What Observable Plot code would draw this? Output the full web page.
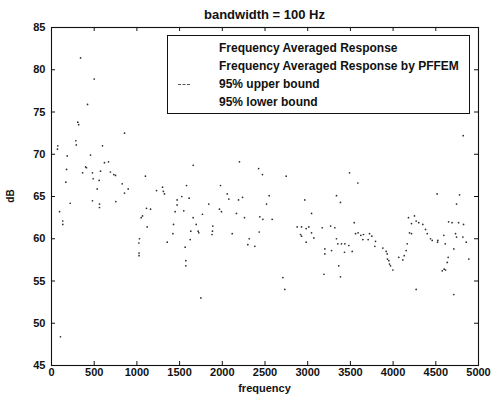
<!DOCTYPE html>
<html><head><meta charset="utf-8">
<script src="https://cdn.jsdelivr.net/npm/d3@7"></script>
<script src="https://cdn.jsdelivr.net/npm/@observablehq/plot@0.6"></script>
<style>
body{margin:0;background:#fff;}
#wrap{position:relative;width:493px;height:399px;font-family:"Liberation Sans",Arial,Helvetica,sans-serif;color:#111;overflow:hidden;}
#wrap svg{position:absolute;left:0;top:0;}
.abs{position:absolute;white-space:nowrap;font-weight:bold;}
#title{left:0;width:529px;top:7px;text-align:center;font-size:13px;line-height:16px;}
#xlab{left:0;width:529px;top:381px;text-align:center;font-size:11px;line-height:14px;}
#ylab{left:10px;top:196px;font-size:10px;transform:translate(-50%,-50%) rotate(-90deg);}
#legend{position:absolute;left:167px;top:35px;width:301px;height:77px;border:1px solid #111;background:#fff;}
#legend .row{position:absolute;left:51px;font-size:12px;line-height:14px;font-weight:bold;white-space:nowrap;}
#legend .sample{position:absolute;left:10px;width:12px;height:0;}
</style></head><body><div id="wrap"></div>
<script>
const xTicks = [0, 500, 1000, 1500, 2000, 2500, 3000, 3500, 4000, 4500, 5000];
const yTicks = [45, 50, 55, 60, 65, 70, 75, 80, 85];
const seriesNames = ["Frequency Averaged Response", "Frequency Averaged Response by PFFEM", "95% upper bound", "95% lower bound"];

const frequency = [340,500,422,308,318,285,290,855,74,70,597,184,457,620,667,410,400,364,176,480,574,690,730,750,558,488,828,1100,168,535,855,898,1300,1310,1323,1230,219,480,562,562,753,94,1112,1160,1066,1050,132,132,1120,1030,1023,1025,1025,105,
1659,2201,2425,2470,1581,1979,1526,1471,1471,1448,1549,1612,1842,2058,2077,2190,2237,1967,1990,2166,2260,2440,2475,2549,2518,2584,1659,1768,1694,1717,1725,1889,1885,1880,1429,1422,1631,1624,1355,2116,2315,2299,2381,2432,1565,1573,1573,1749,
3490,3587,2748,3337,3384,2966,3045,3545,2877,2928,2982,3013,3170,3268,3318,2916,2928,3045,3072,2982,3337,3353,3396,3435,3482,3521,3431,3201,3201,3279,3560,3590,3622,3653,3646,3708,3724,3751,3794,3786,3880,3919,3934,3958,3364,3384,3190,2709,2732,
4821,4516,4778,4743,4180,4250,4270,4300,4348,4215,4650,4690,4767,4825,4192,4215,4380,4400,4438,4458,4524,4520,4594,4610,4731,4743,4817,4856,4165,4153,4130,4067,4114,4711,4887,4645,4634,4598,4575,4614,3931,3950,3970,3997,4270,4711];
const level = [81.4,78.9,75.9,73.8,73.5,71.6,71.1,72.5,71.0,70.6,71.0,69.8,69.9,69.0,69.1,68.4,68.5,67.8,68.2,67.8,68.0,67.9,67.6,67.5,66.9,67.1,66.5,67.4,66.7,65.9,65.4,65.9,66.1,65.6,65.3,65.7,64.2,64.5,64.1,63.7,64.4,63.2,63.6,63.5,62.7,62.5,62.1,61.7,61.4,60.0,59.5,58.3,58.0,48.4,
68.7,69.1,68.3,67.6,66.3,66.3,65.0,64.6,64.0,63.2,63.3,64.8,64.1,65.3,64.7,64.6,64.9,63.5,63.2,63.0,62.5,62.6,62.3,65.1,64.1,62.3,62.5,62.9,61.7,60.9,60.7,61.5,60.9,60.5,61.7,60.6,60.9,59.9,59.6,60.6,60.0,59.3,59.1,60.8,59.0,57.4,56.8,53.0,
67.8,66.6,67.4,65.1,64.3,64.6,63.0,61.9,61.4,61.4,61.2,61.4,61.3,61.5,61.3,60.5,60.3,60.7,60.1,59.6,60.0,59.4,59.4,59.4,59.2,58.5,58.4,58.8,58.2,58.6,60.6,60.7,60.4,60.5,59.9,59.9,60.6,60.3,59.7,59.1,58.9,58.5,57.6,57.0,56.8,55.5,55.8,55.4,54.0,
72.2,65.3,65.2,64.1,62.5,62.7,62.1,61.9,61.7,61.8,62.0,61.9,61.9,61.7,60.7,60.6,61.1,60.6,60.0,59.8,59.8,59.6,60.4,59.4,60.6,60.2,60.2,59.6,59.4,58.6,58.0,57.8,57.5,58.8,57.6,57.8,57.2,56.4,56.2,56.3,58.2,57.4,56.8,56.3,54.0,53.4];

const W = 493, H = 399, mL = 51, mR = 15, mT = 27, mB = 34;
const fw = W - mL - mR, fh = H - mT - mB;
const pts = frequency.map((f, i) => ({f, v: level[i]}));

const chart = Plot.plot({
  width: W, height: H,
  marginLeft: mL, marginRight: mR, marginTop: mT, marginBottom: mB,
  style: {fontFamily: "'Liberation Sans', Arial, sans-serif", fontSize: "11px", fontWeight: "bold", color: "#111", background: "transparent"},
  x: {domain: [0, 5000]},
  y: {domain: [45, 85]},
  marks: [
    Plot.dot(pts, {x: "f", y: "v", r: 0.85, fill: "#2a2a2a", stroke: null}),
    Plot.ruleX(xTicks, {x: d => d, insetTop: fh - 4, stroke: "#111"}),
    Plot.ruleX(xTicks, {x: d => d, insetBottom: fh - 4, stroke: "#111"}),
    Plot.ruleY(yTicks, {y: d => d, insetRight: fw - 4, stroke: "#111"}),
    Plot.ruleY(yTicks, {y: d => d, insetLeft: fw - 4, stroke: "#111"}),
    Plot.frame({stroke: "#111", strokeWidth: 1.1}),
    Plot.axisX({ticks: xTicks, tickSize: 0, tickPadding: 3, label: null, tickFormat: d => String(d)}),
    Plot.axisY({ticks: yTicks, tickSize: 0, tickPadding: 6, label: null})
  ]
});

const wrap = document.getElementById("wrap");
wrap.appendChild(chart);

function addDiv(id, text) {
  const d = document.createElement("div");
  d.id = id; d.className = "abs"; d.textContent = text;
  wrap.appendChild(d);
  return d;
}
addDiv("title", "bandwidth = 100 Hz");
addDiv("xlab", "frequency");
addDiv("ylab", "dB");

const leg = document.createElement("div");
leg.id = "legend";
seriesNames.forEach((name, i) => {
  const r = document.createElement("div");
  r.className = "row";
  r.style.top = (5 + i * 18) + "px";
  r.textContent = name;
  leg.appendChild(r);
  if (i === 2) {
    const s = document.createElement("div");
    s.className = "sample";
    s.style.top = (12 + i * 18) + "px";
    s.style.borderTop = "1.5px dashed #555";
    leg.appendChild(s);
  }
});
wrap.appendChild(leg);
</script></body></html>
